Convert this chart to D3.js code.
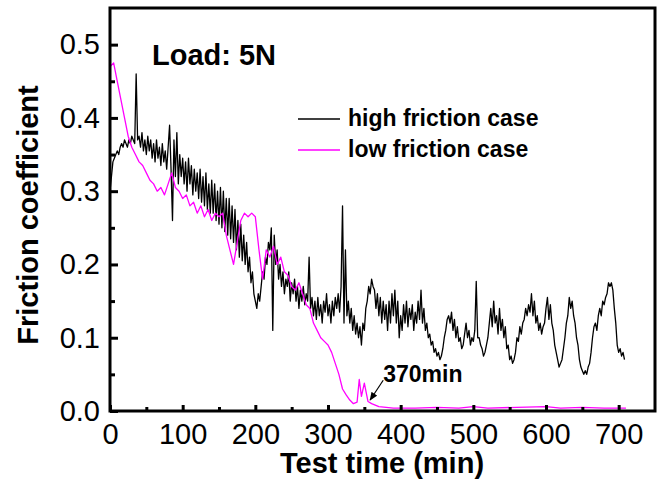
<!DOCTYPE html>
<html>
<head>
<meta charset="utf-8">
<script src="https://cdn.jsdelivr.net/npm/d3@7"></script>
<style>
  body { margin: 0; background: #fff; }
  svg text { font-family: "Liberation Sans", Arial, sans-serif; fill: #000; }
  .tick-label text { font-size: 29px; }
  .axis-title { font-size: 29px; font-weight: bold; }
  .note { font-weight: bold; }
</style>
</head>
<body>
<svg id="chart" width="661" height="485"></svg>
<script>
const highTime = d3.range(0, 709, 2);
const highFric = [
  0.30, 0.32, 0.34, 0.345, 0.35, 0.355, 0.35, 0.36, 0.365, 0.36,
  0.37, 0.365, 0.36, 0.37, 0.365, 0.375, 0.37, 0.365, 0.46, 0.37,
  0.375, 0.36, 0.38, 0.355, 0.37, 0.35, 0.375, 0.355, 0.37, 0.345,
  0.365, 0.34, 0.37, 0.345, 0.36, 0.335, 0.365, 0.34, 0.355, 0.33,
  0.36, 0.39, 0.33, 0.26, 0.37, 0.32, 0.38, 0.31, 0.35, 0.32,
  0.345, 0.31, 0.34, 0.30, 0.345, 0.31, 0.335, 0.295, 0.33, 0.30,
  0.325, 0.29, 0.33, 0.285, 0.32, 0.28, 0.325, 0.275, 0.31, 0.27,
  0.315, 0.27, 0.31, 0.26, 0.30, 0.255, 0.305, 0.25, 0.30, 0.245,
  0.29, 0.24, 0.29, 0.235, 0.28, 0.23, 0.275, 0.22, 0.26, 0.21,
  0.255, 0.205, 0.24, 0.20, 0.23, 0.19, 0.21, 0.175, 0.19, 0.16,
  0.15, 0.14, 0.16, 0.15, 0.17, 0.19, 0.18, 0.21, 0.20, 0.23,
  0.22, 0.25, 0.11, 0.24, 0.20, 0.22, 0.18, 0.20, 0.17, 0.19,
  0.16, 0.18, 0.17, 0.19, 0.15, 0.175, 0.16, 0.18, 0.15, 0.17,
  0.14, 0.165, 0.15, 0.17, 0.145, 0.16, 0.15, 0.21, 0.14, 0.155,
  0.13, 0.15, 0.125, 0.155, 0.13, 0.145, 0.12, 0.15, 0.135, 0.16,
  0.13, 0.145, 0.12, 0.15, 0.13, 0.155, 0.14, 0.16, 0.135, 0.17,
  0.28, 0.12, 0.22, 0.13, 0.15, 0.12, 0.14, 0.11, 0.13, 0.105,
  0.12, 0.10, 0.115, 0.09, 0.12, 0.11, 0.14, 0.15, 0.17, 0.16,
  0.18, 0.17, 0.165, 0.14, 0.16, 0.13, 0.155, 0.12, 0.15, 0.125,
  0.145, 0.11, 0.15, 0.12, 0.16, 0.13, 0.165, 0.12, 0.15, 0.10,
  0.13, 0.11, 0.145, 0.12, 0.15, 0.115, 0.14, 0.125, 0.145, 0.11,
  0.135, 0.12, 0.15, 0.125, 0.165, 0.12, 0.14, 0.11, 0.12, 0.10,
  0.105, 0.09, 0.095, 0.08, 0.085, 0.075, 0.08, 0.07, 0.075, 0.085,
  0.10, 0.11, 0.125, 0.13, 0.12, 0.135, 0.11, 0.125, 0.10, 0.115,
  0.095, 0.10, 0.085, 0.09, 0.105, 0.12, 0.10, 0.11, 0.09, 0.10,
  0.095, 0.11, 0.177, 0.10, 0.10, 0.09, 0.085, 0.075, 0.08, 0.09,
  0.10, 0.12, 0.14, 0.115, 0.15, 0.12, 0.13, 0.105, 0.14, 0.11,
  0.125, 0.10, 0.115, 0.085, 0.09, 0.07, 0.075, 0.065, 0.07, 0.08,
  0.10, 0.095, 0.115, 0.105, 0.12, 0.125, 0.14, 0.13, 0.145, 0.135,
  0.16, 0.13, 0.15, 0.12, 0.13, 0.11, 0.12, 0.105, 0.115, 0.12,
  0.14, 0.155, 0.125, 0.145, 0.12, 0.11, 0.09, 0.08, 0.07, 0.06,
  0.065, 0.07, 0.085, 0.10, 0.12, 0.13, 0.155, 0.14, 0.15, 0.13,
  0.12, 0.10, 0.09, 0.07, 0.06, 0.055, 0.05, 0.055, 0.05, 0.06,
  0.065, 0.08, 0.10, 0.115, 0.12, 0.11, 0.13, 0.14, 0.13, 0.15,
  0.145, 0.155, 0.16, 0.175, 0.17, 0.175, 0.165, 0.14, 0.12, 0.09,
  0.08, 0.085, 0.075, 0.08, 0.07
];

// low friction case
const lowTime = [
  0, 5, 10, 15, 20, 25, 30, 35, 40, 45, 50, 55, 60, 65, 70, 75, 80, 85, 90, 95,
  100, 105, 110, 115, 120, 125, 130, 135, 140, 145, 150, 155, 160, 165, 170, 175,
  180, 185, 190, 195, 200, 205, 210, 215, 220, 225, 230, 235, 240, 245, 250, 255,
  260, 265, 270, 275, 280, 285, 290, 295, 300, 305, 310, 315, 320, 325, 330, 335,
  340, 343, 346, 350, 355, 360, 365, 370, 380, 390, 420, 450, 480, 500, 520, 560,
  600, 620, 650, 680, 710
];
const lowFric = [
  0.47, 0.475, 0.45, 0.425, 0.40, 0.375, 0.36, 0.35, 0.34, 0.335, 0.325, 0.315,
  0.31, 0.30, 0.305, 0.295, 0.31, 0.325, 0.305, 0.30,
  0.29, 0.295, 0.28, 0.285, 0.27, 0.28, 0.265, 0.275, 0.26, 0.27, 0.265, 0.27,
  0.24, 0.22, 0.20, 0.23,
  0.26, 0.27, 0.265, 0.27, 0.265, 0.22, 0.18, 0.22, 0.21, 0.225, 0.20, 0.21,
  0.19, 0.185, 0.17, 0.165,
  0.175, 0.16, 0.145, 0.14, 0.12, 0.11, 0.10, 0.095, 0.09, 0.08, 0.065, 0.05,
  0.03, 0.022, 0.015, 0.01,
  0.012, 0.043, 0.02, 0.038, 0.013, 0.01, 0.008, 0.006, 0.005, 0.004, 0.004,
  0.005, 0.004, 0.006, 0.004, 0.005,
  0.006, 0.004, 0.005, 0.004, 0.004
];

const xMajor = [0, 100, 200, 300, 400, 500, 600, 700];
const xMinor = [50, 150, 250, 350, 450, 550, 650];
const yMajor = [0.0, 0.1, 0.2, 0.3, 0.4, 0.5];
const yMinor = [0.05, 0.15, 0.25, 0.35, 0.45];

const seriesNames = ['high friction case', 'low friction case'];
const seriesColors = ['#000000', '#ff00ff'];

// annotation: arrow from label down to where the low-friction curve settles
const noteText = '370min';
const noteTail = [376, 0.042];
const noteTip = [358, 0.015];

const margin = {top: 8, left: 110, right: 6, bottom: 74};
const width = 661, height = 485;

const svg = d3.select('#chart');

const x = d3.scaleLinear()
    .domain([0, 750])
    .range([margin.left, width - margin.right]);
const y = d3.scaleLinear()
    .domain([0, 0.55])
    .range([height - margin.bottom, margin.top]);

// lines
const line = d3.line()
    .x(d => x(d[0]))
    .y(d => y(d[1]));

const highData = highTime.map((t, i) => [t, highFric[i]]);
const lowData = lowTime.map((t, i) => [t, lowFric[i]]);

svg.append('path')
    .datum(highData)
    .attr('d', line)
    .attr('fill', 'none')
    .attr('stroke', seriesColors[0])
    .attr('stroke-width', 1.3)
    .attr('stroke-linejoin', 'round');

svg.append('path')
    .datum(lowData)
    .attr('d', line)
    .attr('fill', 'none')
    .attr('stroke', seriesColors[1])
    .attr('stroke-width', 1.3)
    .attr('stroke-linejoin', 'round');

// axes, ticks pointing inward
const yAxis = d3.axisLeft(y)
    .tickValues(yMajor)
    .tickFormat(d3.format('.1f'))
    .tickSize(-8)
    .tickPadding(10);
const yAxisMinor = d3.axisLeft(y)
    .tickValues(yMinor)
    .tickFormat('')
    .tickSize(-5);
const xAxis = d3.axisBottom(x)
    .tickValues(xMajor)
    .tickFormat(d3.format('d'))
    .tickSize(-6)
    .tickPadding(12);
const xAxisMinor = d3.axisBottom(x)
    .tickValues(xMinor)
    .tickFormat('')
    .tickSize(-4);

svg.append('g')
    .attr('class', 'tick-label')
    .attr('transform', 'translate(' + margin.left + ',0)')
    .call(yAxis);
svg.append('g')
    .attr('transform', 'translate(' + margin.left + ',0)')
    .call(yAxisMinor);
svg.append('g')
    .attr('class', 'tick-label')
    .attr('transform', 'translate(0,' + (height - margin.bottom) + ')')
    .call(xAxis);
svg.append('g')
    .attr('transform', 'translate(0,' + (height - margin.bottom) + ')')
    .call(xAxisMinor);

svg.selectAll('.domain').remove();
svg.selectAll('.tick line')
    .attr('stroke', '#000')
    .attr('stroke-width', 3);
svg.selectAll('.tick text')
    .attr('font-family', null)
    .attr('font-size', null);

// frame
svg.append('rect')
    .attr('x', x(0))
    .attr('y', y(0.55))
    .attr('width', x(750) - x(0))
    .attr('height', y(0) - y(0.55))
    .attr('fill', 'none')
    .attr('stroke', '#000')
    .attr('stroke-width', 3);

// axis titles
svg.append('text')
    .attr('class', 'axis-title')
    .attr('x', 382)
    .attr('y', 473)
    .attr('text-anchor', 'middle')
    .text('Test time (min)');

svg.append('text')
    .attr('class', 'axis-title')
    .attr('transform', 'translate(38,' + 215 + ') rotate(-90)')
    .attr('text-anchor', 'middle')
    .text('Friction coefficient');

// load label
svg.append('text')
    .attr('class', 'note')
    .attr('x', 152)
    .attr('y', 65)
    .attr('font-size', 29)
    .text('Load: 5N');

// legend
const legend = svg.append('g')
    .attr('transform', 'translate(298,119)');
seriesNames.forEach((name, i) => {
    legend.append('line')
        .attr('x1', 0).attr('x2', 42)
        .attr('y1', i * 31).attr('y2', i * 31)
        .attr('stroke', seriesColors[i])
        .attr('stroke-width', 1.3);
    legend.append('text')
        .attr('class', 'note')
        .attr('x', 50)
        .attr('y', i * 31 + 7)
        .attr('font-size', 23)
        .text(name);
});

// annotation arrow
svg.append('defs').append('marker')
    .attr('id', 'arrow')
    .attr('viewBox', '0 0 10 10')
    .attr('refX', 9).attr('refY', 5)
    .attr('markerWidth', 7).attr('markerHeight', 7)
    .attr('orient', 'auto')
  .append('path')
    .attr('d', 'M0,1L10,5L0,9Z')
    .attr('fill', '#000');

svg.append('line')
    .attr('x1', x(noteTail[0])).attr('y1', y(noteTail[1]))
    .attr('x2', x(noteTip[0])).attr('y2', y(noteTip[1]))
    .attr('stroke', '#000')
    .attr('stroke-width', 1.2)
    .attr('marker-end', 'url(#arrow)');

svg.append('text')
    .attr('class', 'note')
    .attr('x', x(noteTail[0]))
    .attr('y', y(noteTail[1]) + 2)
    .attr('font-size', 23)
    .text(noteText);
</script>
</body>
</html>
